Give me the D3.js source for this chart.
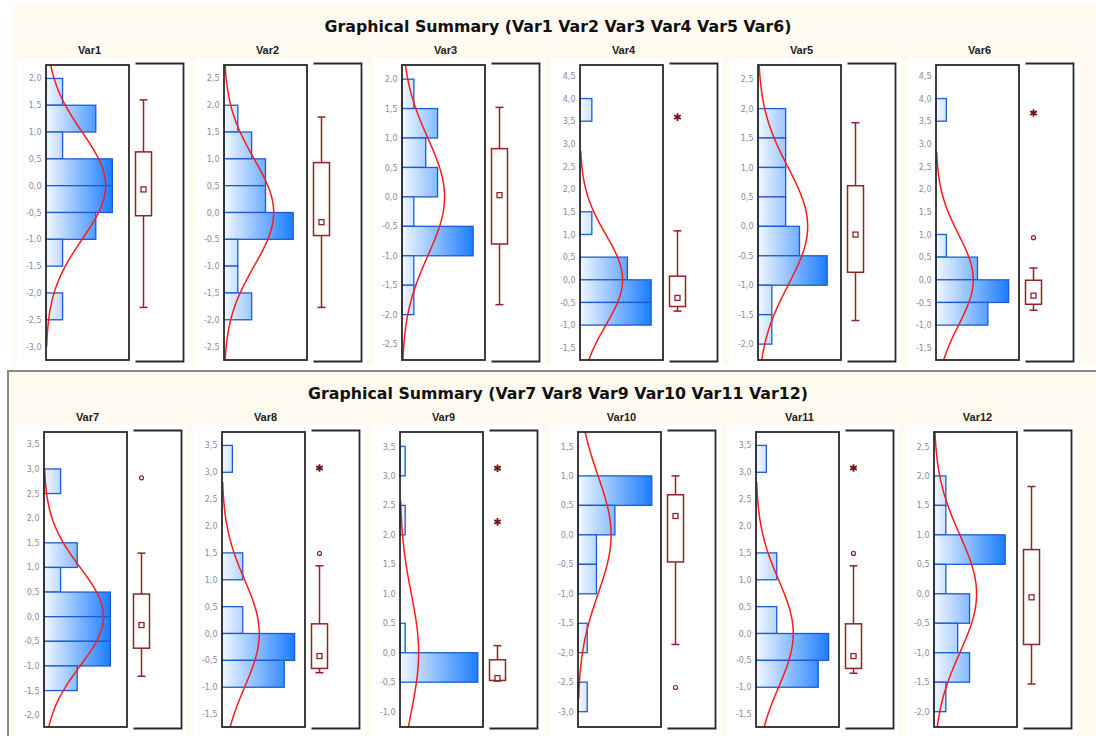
<!DOCTYPE html>
<html><head><meta charset="utf-8">
<script src="https://cdn.jsdelivr.net/npm/d3@7"></script>
<style>body{margin:0;background:#fff}svg{display:block}</style>
</head><body><svg id="c" width="1096" height="736"></svg>
<script>
// ---------- data ----------
const variables = ["Var1","Var2","Var3","Var4","Var5","Var6","Var7","Var8","Var9","Var10","Var11","Var12"];
const sectionTitles = ["Graphical Summary (Var1 Var2 Var3 Var4 Var5 Var6)",
                       "Graphical Summary (Var7 Var8 Var9 Var10 Var11 Var12)"];
// value axis (vertical) extents
const yMin = [-3.25,-2.75,-2.77,-1.77,-2.27,-1.77,-2.24,-1.74,-1.26,-3.26,-1.74,-2.26];
const yMax = [ 2.25, 2.75, 2.24, 4.74, 2.74, 4.74, 3.75, 3.75, 3.745,1.745,3.75, 2.745];
// tick labels (first / last)
const tickLow  = [-3.0,-2.5,-2.5,-1.5,-2.0,-1.5,-2.0,-1.5,-1.0,-3.0,-1.5,-2.0];
const tickHigh = [ 2.0, 2.5, 2.0, 4.5, 2.5, 4.5, 3.5, 3.5, 3.5, 1.5, 3.5, 2.5];
// histogram: upper edge of first bin, bin width 0.5, counts listed top-down
const binTop = [2.0,2.0,2.0,4.0,2.0,4.0,3.0,3.5,3.5,1.0,3.5,2.0];
const binCounts = [
  [1,3,1,4,4,3,1,0,1],
  [1,2,3,3,5,1,1,2],
  [1,3,2,3,1,6,1,1],
  [1,0,0,0,0,1,0,4,6,6],
  [2,2,2,2,3,5,1,1],
  [1,0,0,0,0,0,1,4,7,5],
  [1,0,0,2,1,4,4,4,2],
  [1,0,0,0,2,0,2,7,6],
  [1,0,1,0,0,0,1,15],
  [8,4,2,2,0,1,0,1],
  [1,0,0,0,2,0,2,7,6],
  [1,1,6,1,3,2,3,1]
];
const countAxisMax = [5,6,7,7,6,8,5,8,16,9,8,7];
// box plot: whisker low, Q1, Q3, whisker high, centre marker
const whiskerLow  = [-2.27,-1.77,-1.83,-0.69,-1.60,-0.67,-1.21,-0.73,-0.48,-1.86,-0.74,-1.53];
const boxQ1       = [-0.56,-0.43,-0.80,-0.59,-0.78,-0.54,-0.64,-0.65,-0.47,-0.46,-0.65,-0.86];
const boxQ3       = [ 0.63, 0.93, 0.82, 0.08, 0.69,-0.01, 0.46, 0.18,-0.12, 0.68, 0.18, 0.75];
const whiskerHigh = [ 1.60, 1.78, 1.52, 1.08, 1.76, 0.26, 1.29, 1.26, 0.12, 1.00, 1.26, 1.82];
const centreMark  = [-0.07,-0.18, 0.03,-0.40,-0.14,-0.35,-0.17,-0.42,-0.43, 0.32,-0.42,-0.06];
const outlierCircles = [[],[],[],[],[],[0.93],[2.82],[1.49],[],[-2.59],[1.49],[]];
const outlierStars   = [[],[],[],[3.59],[],[3.68],[],[3.08],[3.13,2.22],[],[3.08],[]];
// fitted normal curve: mean, sd, n, drawn range
const fitMean = [0,0,0,0,0,0,0,0,0,0,0,0];
const fitSd   = [1,1,1,1,1,1,1,1,1,1,1,1];
const fitN    = [18,18,18,18,18,18,18,18,18,18,18,18];
const curveLow  = [-3.0,-3.2,-3.2,-3.2,-3.2,-3.2,-3.2,-3.2,-3.2,-2.78,-3.2,-3.2];
const curveHigh = [ 3.2, 3.2, 3.2, 2.85,3.2, 2.82,3.0, 2.83,2.58,3.2, 2.83,3.2];

// ---------- layout ----------
const svg = d3.select("#c");
const defs = svg.append("defs");
const cream = "#fffaef";
const maroon = "#8e2424";

svg.append("rect").attr("x",13).attr("y",5).attr("width",1083).attr("height",360).attr("fill",cream);
svg.append("rect").attr("x",8).attr("y",371).attr("width",1090).attr("height",370)
   .attr("fill",cream).attr("stroke","#8a8a8a").attr("stroke-width",2);

const rows = [
  {x0:46, top:65, bottom:360, secBottom:365, titleY:32, varY:54},
  {x0:44, top:432, bottom:727, secBottom:736, titleY:399, varY:421}
];
rows.forEach((r,k)=>{
  svg.append("text").attr("x",558).attr("y",r.titleY).attr("text-anchor","middle")
    .attr("font-family","DejaVu Sans, Verdana, sans-serif").attr("font-weight","bold")
    .attr("font-size",15.8).attr("fill","#111").text(sectionTitles[k]);
});

const histW = 83, step = 178;
const normPdf = (v,m,s)=>Math.exp(-0.5*((v-m)/s)**2)/(s*Math.sqrt(2*Math.PI));

variables.forEach((name,i)=>{
  const r = rows[Math.floor(i/6)];
  const left = r.x0 + (i%6)*step;
  const right = left + histW;
  const g = svg.append("g");

  // white panel backdrop
  g.append("rect").attr("x",left-29).attr("y",r.top-7).attr("width",172)
    .attr("height",r.secBottom-(r.top-7)).attr("fill","#fff");

  g.append("text").attr("x",left+histW/2+2).attr("y",r.varY).attr("text-anchor","middle")
    .attr("font-family","Liberation Sans, Arial, sans-serif").attr("font-weight","bold")
    .attr("font-size",11).attr("fill","#222").text(name);

  const y = d3.scaleLinear().domain([yMin[i],yMax[i]]).range([r.bottom,r.top]);
  const x = d3.scaleLinear().domain([0,countAxisMax[i]]).range([left,right]);

  // gradient
  const maxC = d3.max(binCounts[i]);
  const gid = "grad"+i;
  const lg = defs.append("linearGradient").attr("id",gid).attr("gradientUnits","userSpaceOnUse")
    .attr("x1",left).attr("x2",x(maxC)).attr("y1",0).attr("y2",0);
  lg.append("stop").attr("offset","0%").attr("stop-color","#f2f8ff");
  lg.append("stop").attr("offset","100%").attr("stop-color","#1b7dff");

  const bins = binCounts[i].map((c,j)=>({c, hi: binTop[i]-0.5*j, lo: binTop[i]-0.5*(j+1)}))
    .filter(b=>b.c>0);
  g.selectAll("rect.bar").data(bins).join("rect").attr("class","bar")
    .attr("x",x(0)).attr("y",b=>y(b.hi)).attr("width",b=>x(b.c)-x(0))
    .attr("height",b=>y(b.lo)-y(b.hi))
    .attr("fill",`url(#${gid})`).attr("stroke","#1d5bd6").attr("stroke-width",1.3);

  // normal curve, clipped
  const cid = "clip"+i;
  defs.append("clipPath").attr("id",cid).append("rect")
    .attr("x",left).attr("y",r.top).attr("width",histW).attr("height",r.bottom-r.top);
  const pts = d3.range(curveLow[i], curveHigh[i]+1e-9, 0.02).map(v=>[v, fitN[i]*0.5*normPdf(v,fitMean[i],fitSd[i])]);
  g.append("path").attr("clip-path",`url(#${cid})`)
    .attr("d", d3.line().x(p=>x(p[1])).y(p=>y(p[0]))(pts))
    .attr("fill","none").attr("stroke","#ff1a1a").attr("stroke-width",1.5);

  // frame
  g.append("rect").attr("x",left).attr("y",r.top).attr("width",histW).attr("height",r.bottom-r.top)
    .attr("fill","none").attr("stroke","#2a2a2a").attr("stroke-width",1.8);

  // axis
  const ticks = d3.range(tickLow[i], tickHigh[i]+1e-6, 0.5);
  const ax = g.append("g").attr("transform",`translate(${left},0)`)
    .call(d3.axisLeft(y).tickValues(ticks).tickSize(0).tickPadding(4.5)
      .tickFormat(d=>d3.format(".1f")(d).replace("\u2212","-").replace(".",",")));
  ax.select(".domain").remove();
  ax.selectAll("text").attr("font-family","DejaVu Sans, sans-serif").attr("font-size",8)
    .attr("fill","#8a8c9c");

  // box panel
  const bl = right + 6.5, bw = 48;
  g.append("path").attr("d",`M${bl},${r.top-1.5}H${bl+bw}V${r.bottom+1.5}H${bl}`)
    .attr("fill","none").attr("stroke","#2a2a2a").attr("stroke-width",1.8);
  const cx = bl + 8, hw = 8;
  const bx = g.append("g").attr("stroke",maroon).attr("stroke-width",1.5).attr("fill","none");
  bx.append("line").attr("x1",cx).attr("x2",cx).attr("y1",y(whiskerHigh[i])).attr("y2",y(boxQ3[i]));
  bx.append("line").attr("x1",cx).attr("x2",cx).attr("y1",y(boxQ1[i])).attr("y2",y(whiskerLow[i]));
  bx.append("line").attr("x1",cx-4).attr("x2",cx+4).attr("y1",y(whiskerHigh[i])).attr("y2",y(whiskerHigh[i]));
  bx.append("line").attr("x1",cx-4).attr("x2",cx+4).attr("y1",y(whiskerLow[i])).attr("y2",y(whiskerLow[i]));
  bx.append("rect").attr("x",cx-hw).attr("y",y(boxQ3[i])).attr("width",2*hw)
    .attr("height",y(boxQ1[i])-y(boxQ3[i])).attr("fill","#fff");
  bx.append("rect").attr("x",cx-2.5).attr("y",y(centreMark[i])-2.5).attr("width",5).attr("height",5)
    .attr("fill","#fff").attr("stroke-width",1.3);
  bx.selectAll("circle.o").data(outlierCircles[i]).join("circle").attr("class","o")
    .attr("cx",cx).attr("cy",d=>y(d)).attr("r",2).attr("fill","#fff").attr("stroke-width",1.2);
  g.selectAll("path.s").data(outlierStars[i]).join("path").attr("class","s")
    .attr("transform",d=>`translate(${cx},${y(d)})`)
    .attr("d",d3.symbol(d3.symbolAsterisk,40)())
    .attr("fill","none").attr("stroke","#7a1010").attr("stroke-width",1.8);
});
</script></body></html>
